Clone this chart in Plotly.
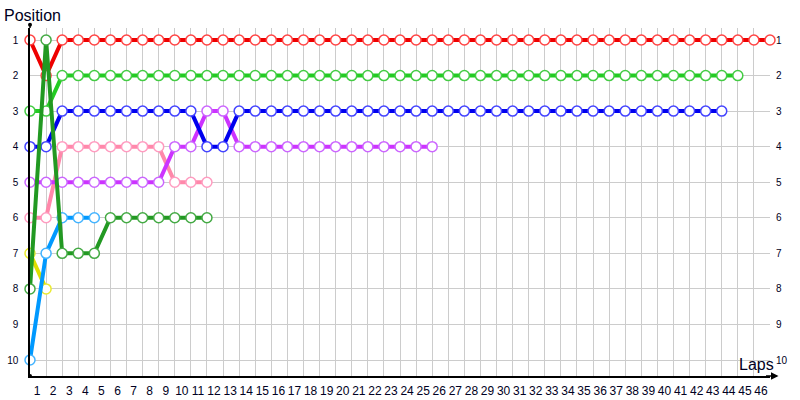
import plotly.graph_objects as go

# ---- data -------------------------------------------------------------
laps_red = list(range(0, 47))
pos_red = [1, 2, 1, 1, 1, 1, 1, 1, 1, 1, 1, 1, 1, 1, 1, 1, 1, 1, 1, 1, 1, 1, 1, 1,
           1, 1, 1, 1, 1, 1, 1, 1, 1, 1, 1, 1, 1, 1, 1, 1, 1, 1, 1, 1, 1, 1, 1]

laps_lgreen = list(range(0, 45))
pos_lgreen = [3, 3, 2, 2, 2, 2, 2, 2, 2, 2, 2, 2, 2, 2, 2, 2, 2, 2, 2, 2, 2, 2, 2,
              2, 2, 2, 2, 2, 2, 2, 2, 2, 2, 2, 2, 2, 2, 2, 2, 2, 2, 2, 2, 2, 2]

laps_blue = list(range(0, 44))
pos_blue = [4, 4, 3, 3, 3, 3, 3, 3, 3, 3, 3, 4, 4, 3, 3, 3, 3, 3, 3, 3, 3, 3,
            3, 3, 3, 3, 3, 3, 3, 3, 3, 3, 3, 3, 3, 3, 3, 3, 3, 3, 3, 3, 3, 3]

laps_purple = list(range(0, 26))
pos_purple = [5, 5, 5, 5, 5, 5, 5, 5, 5, 4, 4, 3, 3, 4, 4, 4, 4, 4, 4, 4, 4, 4, 4, 4, 4, 4]

laps_pink = list(range(0, 12))
pos_pink = [6, 6, 4, 4, 4, 4, 4, 4, 4, 5, 5, 5]

laps_dgreen = list(range(0, 12))
pos_dgreen = [8, 1, 7, 7, 7, 6, 6, 6, 6, 6, 6, 6]

laps_lblue = list(range(0, 5))
pos_lblue = [10, 7, 6, 6, 6]

laps_yellow = list(range(0, 2))
pos_yellow = [7, 8]

lap_ticks = list(range(1, 47))
lap_labels = [str(v) for v in lap_ticks]
pos_ticks = [1, 2, 3, 4, 5, 6, 7, 8, 9, 10]
pos_labels = ["1", "2", "3", "4", "5", "6", "7", "8", "9", "10"]

series = [
    ("Yellow", laps_yellow, pos_yellow, "#dede00", "#eaea30"),
    ("Light blue", laps_lblue, pos_lblue, "#0099ff", "#44b4ff"),
    ("Pink", laps_pink, pos_pink, "#ff88aa", "#ff9cc0"),
    ("Purple", laps_purple, pos_purple, "#cc33ff", "#cc66ff"),
    ("Blue", laps_blue, pos_blue, "#0000ee", "#4444ff"),
    ("Light green", laps_lgreen, pos_lgreen, "#22cc22", "#44cc44"),
    ("Red", laps_red, pos_red, "#ee0000", "#ff4444"),
    ("Dark green", laps_dgreen, pos_dgreen, "#229922", "#44aa44"),
]

# ---- figure -----------------------------------------------------------
fig = go.Figure()
for name, xs, ys, lc, mc in series:
    fig.add_trace(go.Scatter(
        x=xs, y=ys, mode="lines+markers", name=name, showlegend=False,
        line=dict(color=lc, width=4),
        marker=dict(size=10, color="white", line=dict(color=mc, width=1.5)),
        cliponaxis=False, hoverinfo="x+y+name",
    ))

# invisible trace to activate the right-hand axis
fig.add_trace(go.Scatter(x=[0], y=[1], yaxis="y2", mode="markers",
                         marker=dict(opacity=0), showlegend=False, hoverinfo="skip"))

ppu = 320 / 9.0
y_top = 1 - 12 / ppu
y_bot = 10 + 16 / ppu
font = "Liberation Sans, Arial, sans-serif"

fig.update_layout(
    width=800, height=400,
    margin=dict(l=30, r=30, t=28, b=24, autoexpand=False),
    paper_bgcolor="white", plot_bgcolor="white",
    font=dict(family=font, color="#000022"),
    xaxis=dict(
        range=[0, 46], tickmode="array", tickvals=lap_ticks, ticktext=lap_labels,
        showgrid=True, gridcolor="#cccccc", gridwidth=1, zeroline=False,
        showline=True, linecolor="black", linewidth=1.5, automargin=False,
        ticks="", ticklabelshift=-9, ticklabelstandoff=3,
        tickfont=dict(size=12, family=font, color="#000022"),
    ),
    yaxis=dict(
        range=[y_bot, y_top], tickmode="array", tickvals=pos_ticks, ticktext=pos_labels,
        showgrid=True, gridcolor="#cccccc", gridwidth=1, zeroline=False,
        showline=True, linecolor="black", linewidth=1.5, automargin=False,
        ticks="", ticklabelstandoff=8,
        tickfont=dict(size=10, family=font, color="#000022"),
    ),
    yaxis2=dict(
        overlaying="y", side="right", range=[y_bot, y_top],
        tickmode="array", tickvals=pos_ticks, ticktext=pos_labels,
        showgrid=False, zeroline=False, showline=False, ticks="", automargin=False,
        ticklabelstandoff=5,
        tickfont=dict(size=10, family=font, color="#000022"),
    ),
    annotations=[
        dict(text="Position", xref="paper", yref="paper", x=-0.0378, y=1.037,
             xanchor="left", yanchor="middle", showarrow=False,
             font=dict(size=16, family=font, color="#000022")),
        dict(text="Laps", xref="paper", yref="paper", x=1.008, y=0.033,
             xanchor="right", yanchor="middle", showarrow=False,
             font=dict(size=16, family=font, color="#000022")),
        dict(text="", xref="paper", yref="paper", x=1.0115, y=0, ax=-14, ay=0,
             showarrow=True, arrowhead=2, arrowsize=1, arrowwidth=1.5,
             arrowcolor="black"),
    ],
    shapes=[
        dict(type="line", xref="paper", yref="paper", x0=0, x1=0, y0=1, y1=1.009,
             line=dict(color="black", width=1.5)),
        dict(type="circle", xref="paper", yref="paper", xsizemode="pixel",
             ysizemode="pixel", xanchor=0, yanchor=1.009, x0=-2, x1=2, y0=-2, y1=2,
             fillcolor="black", line=dict(width=0)),
        dict(type="circle", xref="paper", yref="paper", xsizemode="pixel",
             ysizemode="pixel", xanchor=0, yanchor=0, x0=-2, x1=2, y0=-2, y1=2,
             fillcolor="black", line=dict(width=0)),
    ],
)

fig.write_html("out.html", config={"displayModeBar": False},
               post_script="document.body.style.margin='0px';")
